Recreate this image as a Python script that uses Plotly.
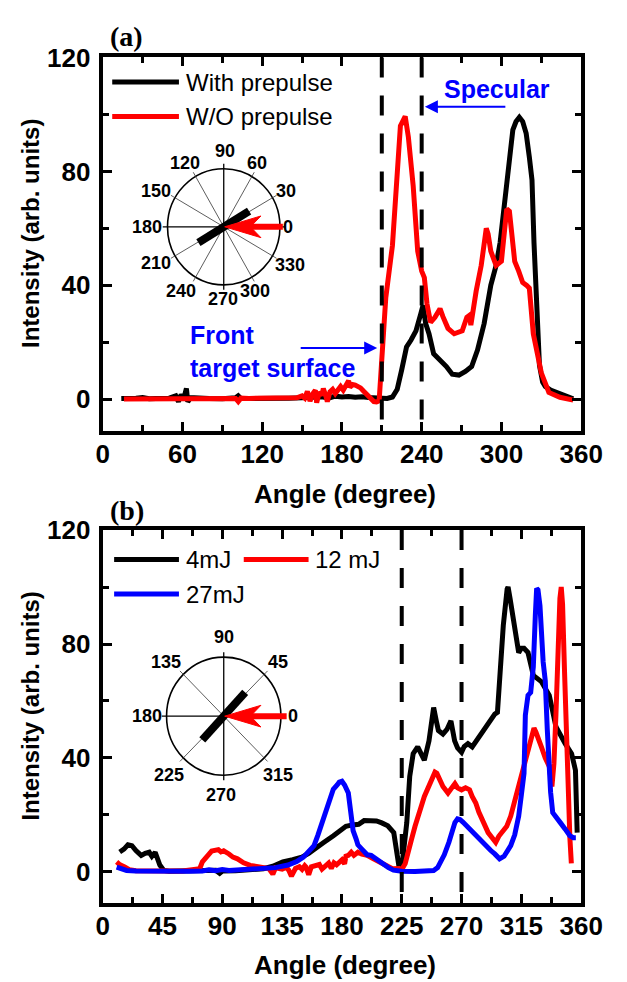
import math
import plotly.graph_objects as go

# page offset of the plot div (browser default body margin)
OFF = 8
W, H = 627 - OFF, 982 - OFF

# ---------------- data: panel (a) ----------------
a_with_x = [14, 20, 25, 30, 35, 40, 45, 50, 55, 57, 59, 61, 63, 64, 66, 70, 80, 90, 100, 102, 104,
            110, 120, 130, 140, 150, 160, 165, 170, 175, 180, 185, 190, 195, 200, 205, 210, 214,
            218, 221.6, 225, 228.6, 232, 235.7, 239.3, 241, 243, 245.5, 249, 253.8, 258.6, 263,
            268, 272.9, 277.6, 282, 287, 292, 296, 299, 302, 305.7, 308.6, 311, 313.5, 316, 318.6,
            321, 323, 324.5, 326, 327, 328.6, 331, 333, 337, 341, 345, 350, 354]
a_with_y = [0.3, 0.2, 0.4, 0.6, 0.2, 0.3, 0.5, 0.4, 1.2, -0.8, 1.6, 0.2, 3.8, -0.9, 0.6, 0.4, 0.3,
            0.2, 0.5, 1.2, 0.3, 0.3, 0.2, 0.3, 0.4, 0.5, 0.6, 0.9, 0.4, 1.1, 0.8, 1.0, 0.7, 0.9,
            0.6, 0.5, 0.3, 0.3, 0.8, 3.5, 10.4, 18.4, 20.8, 24, 30, 33, 26.6, 23, 16, 13.8, 11.5,
            8.8, 8.5, 9.8, 11.5, 17.3, 26.6, 40, 47, 55, 68, 83, 94.6, 97.5, 99, 97.5, 93.4, 85,
            77, 55, 38, 32, 12, 6, 4.5, 3.2, 2.4, 1.8, 1.0, 0.2]

a_wo_x = [16, 25, 30, 35, 40, 50, 60, 70, 80, 90, 100, 102, 104, 110, 120, 130, 140, 146, 150, 152,
          154, 156, 158, 160, 161, 163, 165, 166, 168, 169, 171, 173, 175, 177, 179, 181, 183, 185,
          186, 188, 190, 192, 194, 196, 198, 200, 202, 204, 206, 208, 209.5, 211, 213, 218, 221.7,
          224, 227.6, 230, 233.6, 237, 240, 242, 244, 246.7, 250, 253.8, 256, 259.8, 264.5, 270.5,
          274, 276, 277, 279, 281, 284.8, 287, 288.6, 290, 292, 294, 296, 300, 302, 304, 306, 308,
          310, 313, 316, 319, 321, 324, 327, 330, 335.7, 344, 354]
a_wo_y = [0.1, 0.1, 0.2, -0.1, 0.1, 0.2, 0.3, 0.2, 0.2, 0.3, 0.3, -0.8, 0.4, 0.3, 0.4, 0.5, 0.4,
          0.5, 1.2, 0.4, 2.8, -0.6, 1.9, 3.2, -1.2, 2.5, 1.4, 3.8, 1.0, -0.8, 2.6, 3.5, 2.0, 3.4,
          4.5, 3.2, 4.8, 6.5, 4.2, 5.2, 5.0, 4.5, 4.0, 3.0, 2.0, 1.0, 0.2, -0.8, -0.9, -0.5, 10.4,
          23, 35.7, 54, 77, 96, 99.3, 92, 75, 52, 45, 42.7, 33.5, 27, 28.8, 31.8, 29, 24.9, 23, 24,
          28.8, 29.5, 26, 33, 38, 47, 54, 60, 58, 52, 49.5, 47, 48.5, 56, 66.8, 66, 57, 48.4, 45,
          41, 40, 39, 23, 15, 9.3, 2.4, 0.7, -0.3]

# ---------------- data: panel (b) ----------------
b_4_x = [12.8, 16, 19, 22, 25, 29, 32, 35, 37, 39.5, 43, 46, 50, 60, 70, 80, 85, 88, 90, 100, 110,
         121, 128, 135.5, 143, 149.8, 155, 159, 166, 173.6, 178, 183, 188, 192.6, 196.7, 201, 206,
         210, 214.5, 219, 221.7, 223, 225, 226.5, 228.8, 231, 233.6, 237, 239.5, 242, 245.5, 249,
         251, 252.6, 256, 259, 262, 264.8, 267, 270, 272, 274.8, 278, 281, 284, 290, 295, 297, 299,
         301.4, 304.3, 305, 306.5, 308.6, 310, 313, 315, 317, 320, 324, 330, 336, 341, 344, 348,
         352.8, 355.7, 357]
b_4_y = [7, 8, 9.5, 9.2, 7.5, 5.8, 6.5, 6.9, 5.5, 6.9, 2.4, 0.5, 0.2, 0.3, 0.4, 0.4, 0.6, -0.5, 0.3,
         0.4, 0.6, 1.1, 2.0, 3.5, 4.3, 5.2, 6.5, 8, 10.2, 12.7, 14.5, 16, 16.5, 16.7, 18, 17.8, 17.9,
         17.2, 16.2, 13.8, 7, 1.7, 1.5, 8, 17.3, 33.5, 41.5, 43.9, 41, 39.2, 46, 57.7, 53, 49.6, 48.4,
         50, 53, 46, 43.5, 42, 44, 45, 43.9, 46, 48.4, 52, 55.4, 56, 70, 86.5, 99.3, 100, 96, 89, 85,
         77, 78.5, 78.5, 77, 69, 66.8, 62, 51, 48, 45, 41.5, 35.7, 13.8]

b_12_x = [10.5, 13, 16.6, 20, 25, 30, 40, 50, 60, 70, 73, 75, 77.6, 80, 82, 84.8, 87, 89, 91, 95, 98,
          101.4, 106, 111, 116, 121, 125, 128, 130, 135, 138, 140, 142, 145, 148, 150, 152, 153, 155,
          157, 160, 163, 165, 168, 170, 172, 174, 176, 178, 180, 182, 183, 184.8, 187, 189, 192, 195,
          199, 203, 208.6, 213, 218, 223, 225, 227.6, 230, 232.4, 235, 237, 240, 242, 245, 248, 250,
          251.4, 253, 256, 259.8, 262, 265, 267, 270, 273, 276, 278, 280.7, 283, 285.5, 288, 290,
          293, 295.7, 298, 300, 304, 307, 310, 312.9, 315, 318.6, 321, 323, 324.5, 326, 328, 330,
          333, 336, 338, 339.5, 341, 342.5, 344, 345, 346, 347.5, 349, 350, 351.5, 352.6]
b_12_y = [3.5, 2.5, 1.7, 0.8, 0.4, 0.3, 0.4, 0.3, 0.3, 0.6, 1.1, 3.5, 5.2, 6.2, 7.3, 7.5, 7.8, 7.0,
          7.4, 6.3, 5.2, 4.6, 3.2, 2.3, 1.9, 1.7, 1.2, -0.8, 1.4, 1.0, 1.6, 0.6, -1.5, 1.2, 1.8, 0.9,
          2.2, 1.7, -1.0, 1.8, 2.0, 2.6, 1.0, 2.3, 3.1, 1.2, 3.2, 2.5, 3.5, 4.2, 2.8, 5.5, 5.8, 6.9,
          5.8, 6.9, 6.2, 5.8, 4.8, 3.5, 2.2, 1.1, 1.2, 0.8, 2.9, 6.5, 11.5, 16, 19.6, 23.5, 26.5, 30,
          33.4, 35, 34.6, 33, 30, 27.7, 29, 31, 29.5, 28.8, 29.5, 28.8, 26.5, 24.2, 21, 18.4, 15.5,
          13.8, 12, 10.4, 12.5, 13.8, 16, 19.6, 25, 31, 35, 41.5, 45, 48, 50.5, 49, 46, 44, 40, 37,
          30, 38, 55, 80, 96, 100, 94, 70, 45, 28, 12, 3]

b_27_x = [10.5, 14, 18, 25, 35, 45, 55, 65, 75, 80, 85, 90, 95, 100, 110, 121, 130, 139.4, 146, 151,
          155, 159, 162, 166, 168.5, 171, 173.5, 176.4, 178, 180, 182, 184.8, 186.5, 188.4, 190.7,
          192, 195, 199, 202, 206, 211.6, 215, 218.8, 225, 235, 245, 249, 252, 254.5, 257, 260.5,
          263, 265, 267, 268.8, 271, 273.6, 277, 280.7, 284, 288, 292, 295, 298.6, 302, 307, 310,
          313, 315, 317, 318, 320, 322, 324, 325.5, 326.5, 327.5, 329, 331.4, 333, 334.5, 335.7,
          337, 338.6, 341, 344.3, 348, 351.4, 354, 356]
b_27_y = [1.7, 1.0, 0.5, 0.3, 0.2, 0.1, 0.1, 0.2, 0.3, 0.7, 0.4, 0.8, 0.5, 0.6, 0.8, 1.0, 1.5, 2.4,
          3.6, 5.2, 7, 9.2, 13, 18.4, 23, 26.5, 29, 30.5, 31.5, 31.8, 30.5, 27.7, 22, 14.5, 11.5,
          9.5, 8, 6, 5.8, 4.4, 2.9, 1.5, 0.6, 0.2, 0.1, 0.2, 0.5, 1.5, 3.5, 6, 10.4, 14, 17.3, 18.6,
          18.4, 17.5, 16.2, 14.5, 12.7, 11, 9.2, 7.5, 6.3, 4.6, 5.5, 9.2, 13, 19.6, 27, 34.6, 55, 62,
          63, 72, 90, 99.5, 99, 93.4, 73.7, 67, 50, 37, 28, 20.8, 19, 17.3, 15, 12.7, 12, 12]

# tick labels / annotation text
a_xticks = [0, 60, 120, 180, 240, 300, 360]
b_xticks = [0, 45, 90, 135, 180, 225, 270, 315, 360]
y_ticks = [0, 40, 80, 120]
a_dashed = [210, 240]
b_dashed = [225, 270]
a_polar_labels = ["0", "30", "60", "90", "120", "150", "180", "210", "240", "270", "300", "330"]
b_polar_labels = ["0", "45", "90", "135", "180", "225", "270", "315"]


def px(x):
    return (x - OFF) / W


def py(y):
    return 1 - (y - OFF) / H


FONT = "Liberation Sans"
fig = go.Figure()

fig.add_trace(go.Scatter(x=a_with_x, y=a_with_y, mode="lines", line=dict(color="black", width=5),
                         xaxis="x", yaxis="y", showlegend=False))
fig.add_trace(go.Scatter(x=a_wo_x, y=a_wo_y, mode="lines", line=dict(color="#ff0000", width=5),
                         xaxis="x", yaxis="y", showlegend=False))
fig.add_trace(go.Scatter(x=b_4_x, y=b_4_y, mode="lines", line=dict(color="black", width=5),
                         xaxis="x2", yaxis="y2", showlegend=False))
fig.add_trace(go.Scatter(x=b_12_x, y=b_12_y, mode="lines", line=dict(color="#ff0000", width=5),
                         xaxis="x2", yaxis="y2", showlegend=False))
fig.add_trace(go.Scatter(x=b_27_x, y=b_27_y, mode="lines", line=dict(color="#0000ff", width=5),
                         xaxis="x2", yaxis="y2", showlegend=False))

tickfont = dict(family=FONT, size=26, color="black", weight="bold")
MINOR = dict(ticks="inside", ticklen=6, tickwidth=3, tickcolor="black")


def xax(ticks, minor_dt, anchor):
    return dict(domain=[px(100), px(602)], range=[0, 360], tickvals=ticks,
                ticktext=[str(t) for t in ticks], showline=True, linewidth=4, linecolor="black",
                mirror="allticks", ticks="inside", ticklen=9, tickwidth=3, tickcolor="black",
                minor=dict(dtick=minor_dt, tick0=0, **MINOR),
                showgrid=False, zeroline=False, tickfont=tickfont, anchor=anchor,
                ticklabelstandoff=-3)


def yax(domain_y, anchor):
    return dict(domain=domain_y, range=[-11, 120], tickvals=y_ticks,
                showline=True, linewidth=4, linecolor="black", mirror="allticks",
                ticks="inside", ticklen=9, tickwidth=3, tickcolor="black",
                minor=dict(dtick=20, tick0=0, **MINOR),
                showgrid=False, zeroline=False, tickfont=tickfont, anchor=anchor,
                ticklabelstandoff=3)


fig.update_layout(
    width=W, height=H, margin=dict(l=0, r=0, t=0, b=0),
    paper_bgcolor="white", plot_bgcolor="white", showlegend=False,
    xaxis=xax(a_xticks, 30, "y"),
    yaxis=yax([py(422), py(43)], "x"),
    xaxis2=xax(b_xticks, 22.5, "y2"),
    yaxis2=yax([py(902), py(523)], "x2"),
)

shapes = []
annos = []


def text(t, x, y, font, xanchor="center", yanchor="middle", **kw):
    annos.append(dict(text=t, x=px(x), y=py(y), xref="paper", yref="paper", showarrow=False,
                      xanchor=xanchor, yanchor=yanchor, font=font, **kw))


for xv in a_dashed:
    shapes.append(dict(type="line", xref="x", yref="y domain", x0=xv, x1=xv, y0=1, y1=0,
                       line=dict(color="black", width=4, dash="20px,18px")))
for xv in b_dashed:
    shapes.append(dict(type="line", xref="x2", yref="y2 domain", x0=xv, x1=xv, y0=1, y1=0,
                       line=dict(color="black", width=4, dash="20px,18px")))

titlefont = dict(family=FONT, size=24, color="black", weight="bold")
for yc in (222, 702):
    text("Intensity (arb. units)", 24, yc, titlefont, textangle=-90)
for yc in (486, 965):
    text("Angle (degree)", 354, yc, dict(family=FONT, size=26, color="black", weight="bold"))
for lab, yc in (("(a)", 22), ("(b)", 503)):
    text(lab, 125, yc, dict(family="Liberation Serif", size=28, color="black", weight="bold"))


def legend_item(x0, x1, y, color, t, tx):
    shapes.append(dict(type="line", xref="paper", yref="paper", x0=px(x0), x1=px(x1), y0=py(y),
                       y1=py(y), line=dict(color=color, width=5)))
    text(t, tx, y, dict(family=FONT, size=24, color="black"), xanchor="left")


legend_item(110, 180, 68, "black", "With prepulse", 185)
legend_item(110, 180, 103, "#ff0000", "W/O prepulse", 185)
legend_item(112, 180, 553, "black", "4mJ", 185)
legend_item(248, 316, 553, "#ff0000", "12 mJ", 321)
legend_item(112, 180, 588, "#0000ff", "27mJ", 185)

bluefont = dict(family=FONT, size=25, color="#0000ff", weight="bold")
text("Specular", 514, 75, bluefont)
text("Front", 190, 325, bluefont, xanchor="left")
text("target surface", 190, 358, bluefont, xanchor="left")
annos.append(dict(text="", x=px(438), y=py(93), ax=520 - 438, ay=0, xref="paper", yref="paper",
                  showarrow=True, arrowhead=2, arrowsize=1.3, arrowwidth=2, arrowcolor="#0000ff"))
annos.append(dict(text="", x=px(388), y=py(338), ax=310 - 388, ay=0, xref="paper", yref="paper",
                  showarrow=True, arrowhead=2, arrowsize=1.3, arrowwidth=2, arrowcolor="#0000ff"))


def polar_inset(cx, cy, r, step, labels, offsets, bar_ang, bar_r, arrow_end):
    shapes.append(dict(type="circle", xref="paper", yref="paper", x0=px(cx - r), x1=px(cx + r),
                       y0=py(cy + r), y1=py(cy - r), line=dict(color="black", width=1.6)))
    n = int(360 / step)
    for i in range(n):
        ang = math.radians(i * step)
        main = (i * step) % 90 == 0
        ext = r + 5
        shapes.append(dict(type="line", xref="paper", yref="paper", x0=px(cx), y0=py(cy),
                           x1=px(cx + ext * math.cos(ang)), y1=py(cy - ext * math.sin(ang)),
                           line=dict(color="black" if main else "#333333",
                                     width=1.3 if main else 0.8)))
    for lab, (dx, dy) in zip(labels, offsets):
        text(lab, cx + dx, cy + dy, dict(family=FONT, size=18, color="black", weight="bold"))
    ba = math.radians(bar_ang)
    shapes.append(dict(type="line", xref="paper", yref="paper",
                       x0=px(cx - bar_r * math.cos(ba)), y0=py(cy + bar_r * math.sin(ba)),
                       x1=px(cx + bar_r * math.cos(ba)), y1=py(cy - bar_r * math.sin(ba)),
                       line=dict(color="black", width=8)))
    shapes.append(dict(type="line", xref="paper", yref="paper", x0=px(cx + 26), x1=px(arrow_end),
                       y0=py(cy), y1=py(cy), line=dict(color="#ff0000", width=6)))
    path = "M {} {} L {} {} L {} {} L {} {} Z".format(
        px(cx + 1), py(cy), px(cx + 39), py(cy - 11), px(cx + 28), py(cy), px(cx + 39), py(cy + 11))
    shapes.append(dict(type="path", xref="paper", yref="paper", path=path,
                       fillcolor="#ff0000", line=dict(color="#ff0000", width=1)))


a_offsets = [(67, 0), (65, -36), (35, -65), (1, -77), (-41, -65), (-71, -36), (-81, 0), (-71, 37),
             (-45, 65), (-1, 73), (33, 65), (69, 39)]
b_offsets = [(73, 0), (57, -55), (0, -80), (-61, -55), (-81, 0), (-57, 60), (-3, 80), (57, 60)]
polar_inset(227, 215, 59, 30, a_polar_labels, a_offsets, 31, 31, 289)
polar_inset(227, 712, 60, 45, b_polar_labels, b_offsets, 47, 33, 293)

fig.update_layout(shapes=shapes, annotations=annos)
fig.write_html("out.html")
